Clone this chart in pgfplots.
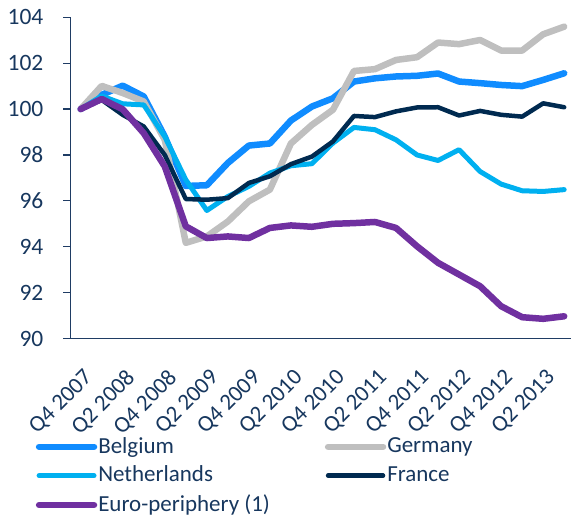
\documentclass[border=0pt]{standalone}
\usepackage{pgfplots}
\pgfplotsset{compat=1.18}
\usepackage{fontspec}
\setmainfont{Carlito}
\definecolor{txt}{HTML}{17375E}
\definecolor{axisc}{HTML}{1F3C64}
\definecolor{tickc}{HTML}{8497B0}
\definecolor{bel}{HTML}{108CFF}
\definecolor{ger}{HTML}{BFBFBF}
\definecolor{ned}{HTML}{00B0F0}
\definecolor{fra}{HTML}{002A50}
\definecolor{eur}{HTML}{7030A0}
\begin{document}
\fontsize{23}{27}\selectfont
\begin{tikzpicture}
\path (-70pt,-172pt) rectangle (501pt,339pt);
\begin{axis}[
  at={(0pt,0pt)}, anchor=south west,
  scale only axis, width=501pt, height=321.7pt,
  xmin=-0.5, xmax=23.3, ymin=90, ymax=104,
  axis lines*=left,
  axis line style={axisc, line width=1.3pt},
  x axis line style={line width=1pt},
  ytick={90,92,...,104},
  y tick label style={font=\fontsize{23.5}{27}\selectfont, text=txt, xshift=-12pt},
  ytick style={axisc, line width=1.2pt},
  major tick length=7pt,
  tick align=outside,
  xtick={0,2,...,22},
  xticklabels={Q4 2007,Q2 2008,Q4 2008,Q2 2009,Q4 2009,Q2 2010,Q4 2010,Q2 2011,Q4 2011,Q2 2012,Q4 2012,Q2 2013},
  x tick label style={font=\fontsize{23}{27}\selectfont, text=txt, xshift=2pt, yshift=-21pt, rotate=45, anchor=north east, inner sep=1pt},
  xtick style={draw=none},
  extra x ticks={-0.5,3.5,7.5,11.5,15.5,19.5},
  extra x tick labels={},
  extra x tick style={tick style={tickc, line width=1pt, draw=tickc}, major tick length=6pt},
  /pgf/number format/assume math mode=true,
  every axis plot/.append style={line join=round, line cap=round},
  legend columns=2,
  legend cell align=left,
  legend style={at={(-0.069,-0.30)}, anchor=north west, draw=none, fill=none,
    font=\fontsize{23}{27}\selectfont, text=txt, inner sep=0pt, row sep=5.5pt,
    /tikz/every even column/.append style={column sep=54pt},
    nodes={inner xsep=1pt}},
  legend image code/.code={\draw[#1, line cap=round] (0pt,0pt) -- (55pt,0pt);},
]
\addplot[bel, line width=6.5pt] coordinates {
(0,100) (1,100.62) (2,101.02) (3,100.55) (4,98.8) (5,96.65) (6,96.68) (7,97.65) (8,98.41) (9,98.5) (10,99.5) (11,100.11) (12,100.47) (13,101.2) (14,101.34) (15,101.42) (16,101.45) (17,101.55) (18,101.2) (19,101.13) (20,101.05) (21,101.0) (22,101.27) (23,101.56)};
\addlegendentry{Belgium}
\addplot[ger, line width=6.5pt] coordinates {
(0,100) (1,101.01) (2,100.7) (3,100.33) (4,98.66) (5,94.17) (6,94.45) (7,95.1) (8,95.98) (9,96.49) (10,98.5) (11,99.31) (12,99.97) (13,101.66) (14,101.74) (15,102.14) (16,102.26) (17,102.9) (18,102.83) (19,103.01) (20,102.55) (21,102.55) (22,103.26) (23,103.59)};
\addlegendentry{Germany}
\addplot[ned, line width=5pt] coordinates {
(0,100) (1,100.57) (2,100.23) (3,100.18) (4,98.8) (5,96.92) (6,95.58) (7,96.19) (8,96.63) (9,97.21) (10,97.53) (11,97.62) (12,98.52) (13,99.2) (14,99.1) (15,98.66) (16,98.0) (17,97.76) (18,98.23) (19,97.28) (20,96.73) (21,96.44) (22,96.41) (23,96.49)};
\addlegendentry{Netherlands}
\addplot[fra, line width=4.5pt] coordinates {
(0,100) (1,100.4) (2,99.75) (3,99.24) (4,98.0) (5,96.08) (6,96.05) (7,96.12) (8,96.78) (9,97.07) (10,97.6) (11,97.93) (12,98.59) (13,99.7) (14,99.65) (15,99.9) (16,100.07) (17,100.08) (18,99.72) (19,99.92) (20,99.75) (21,99.67) (22,100.25) (23,100.08)};
\addlegendentry{France}
\addplot[eur, line width=6.5pt] coordinates {
(0,100) (1,100.44) (2,99.99) (3,98.95) (4,97.5) (5,94.89) (6,94.38) (7,94.45) (8,94.38) (9,94.82) (10,94.93) (11,94.87) (12,95.0) (13,95.03) (14,95.08) (15,94.82) (16,94.02) (17,93.3) (18,92.79) (19,92.28) (20,91.41) (21,90.93) (22,90.86) (23,90.97)};
\addlegendentry{Euro-periphery (1)}
\end{axis}
\end{tikzpicture}
\end{document}
